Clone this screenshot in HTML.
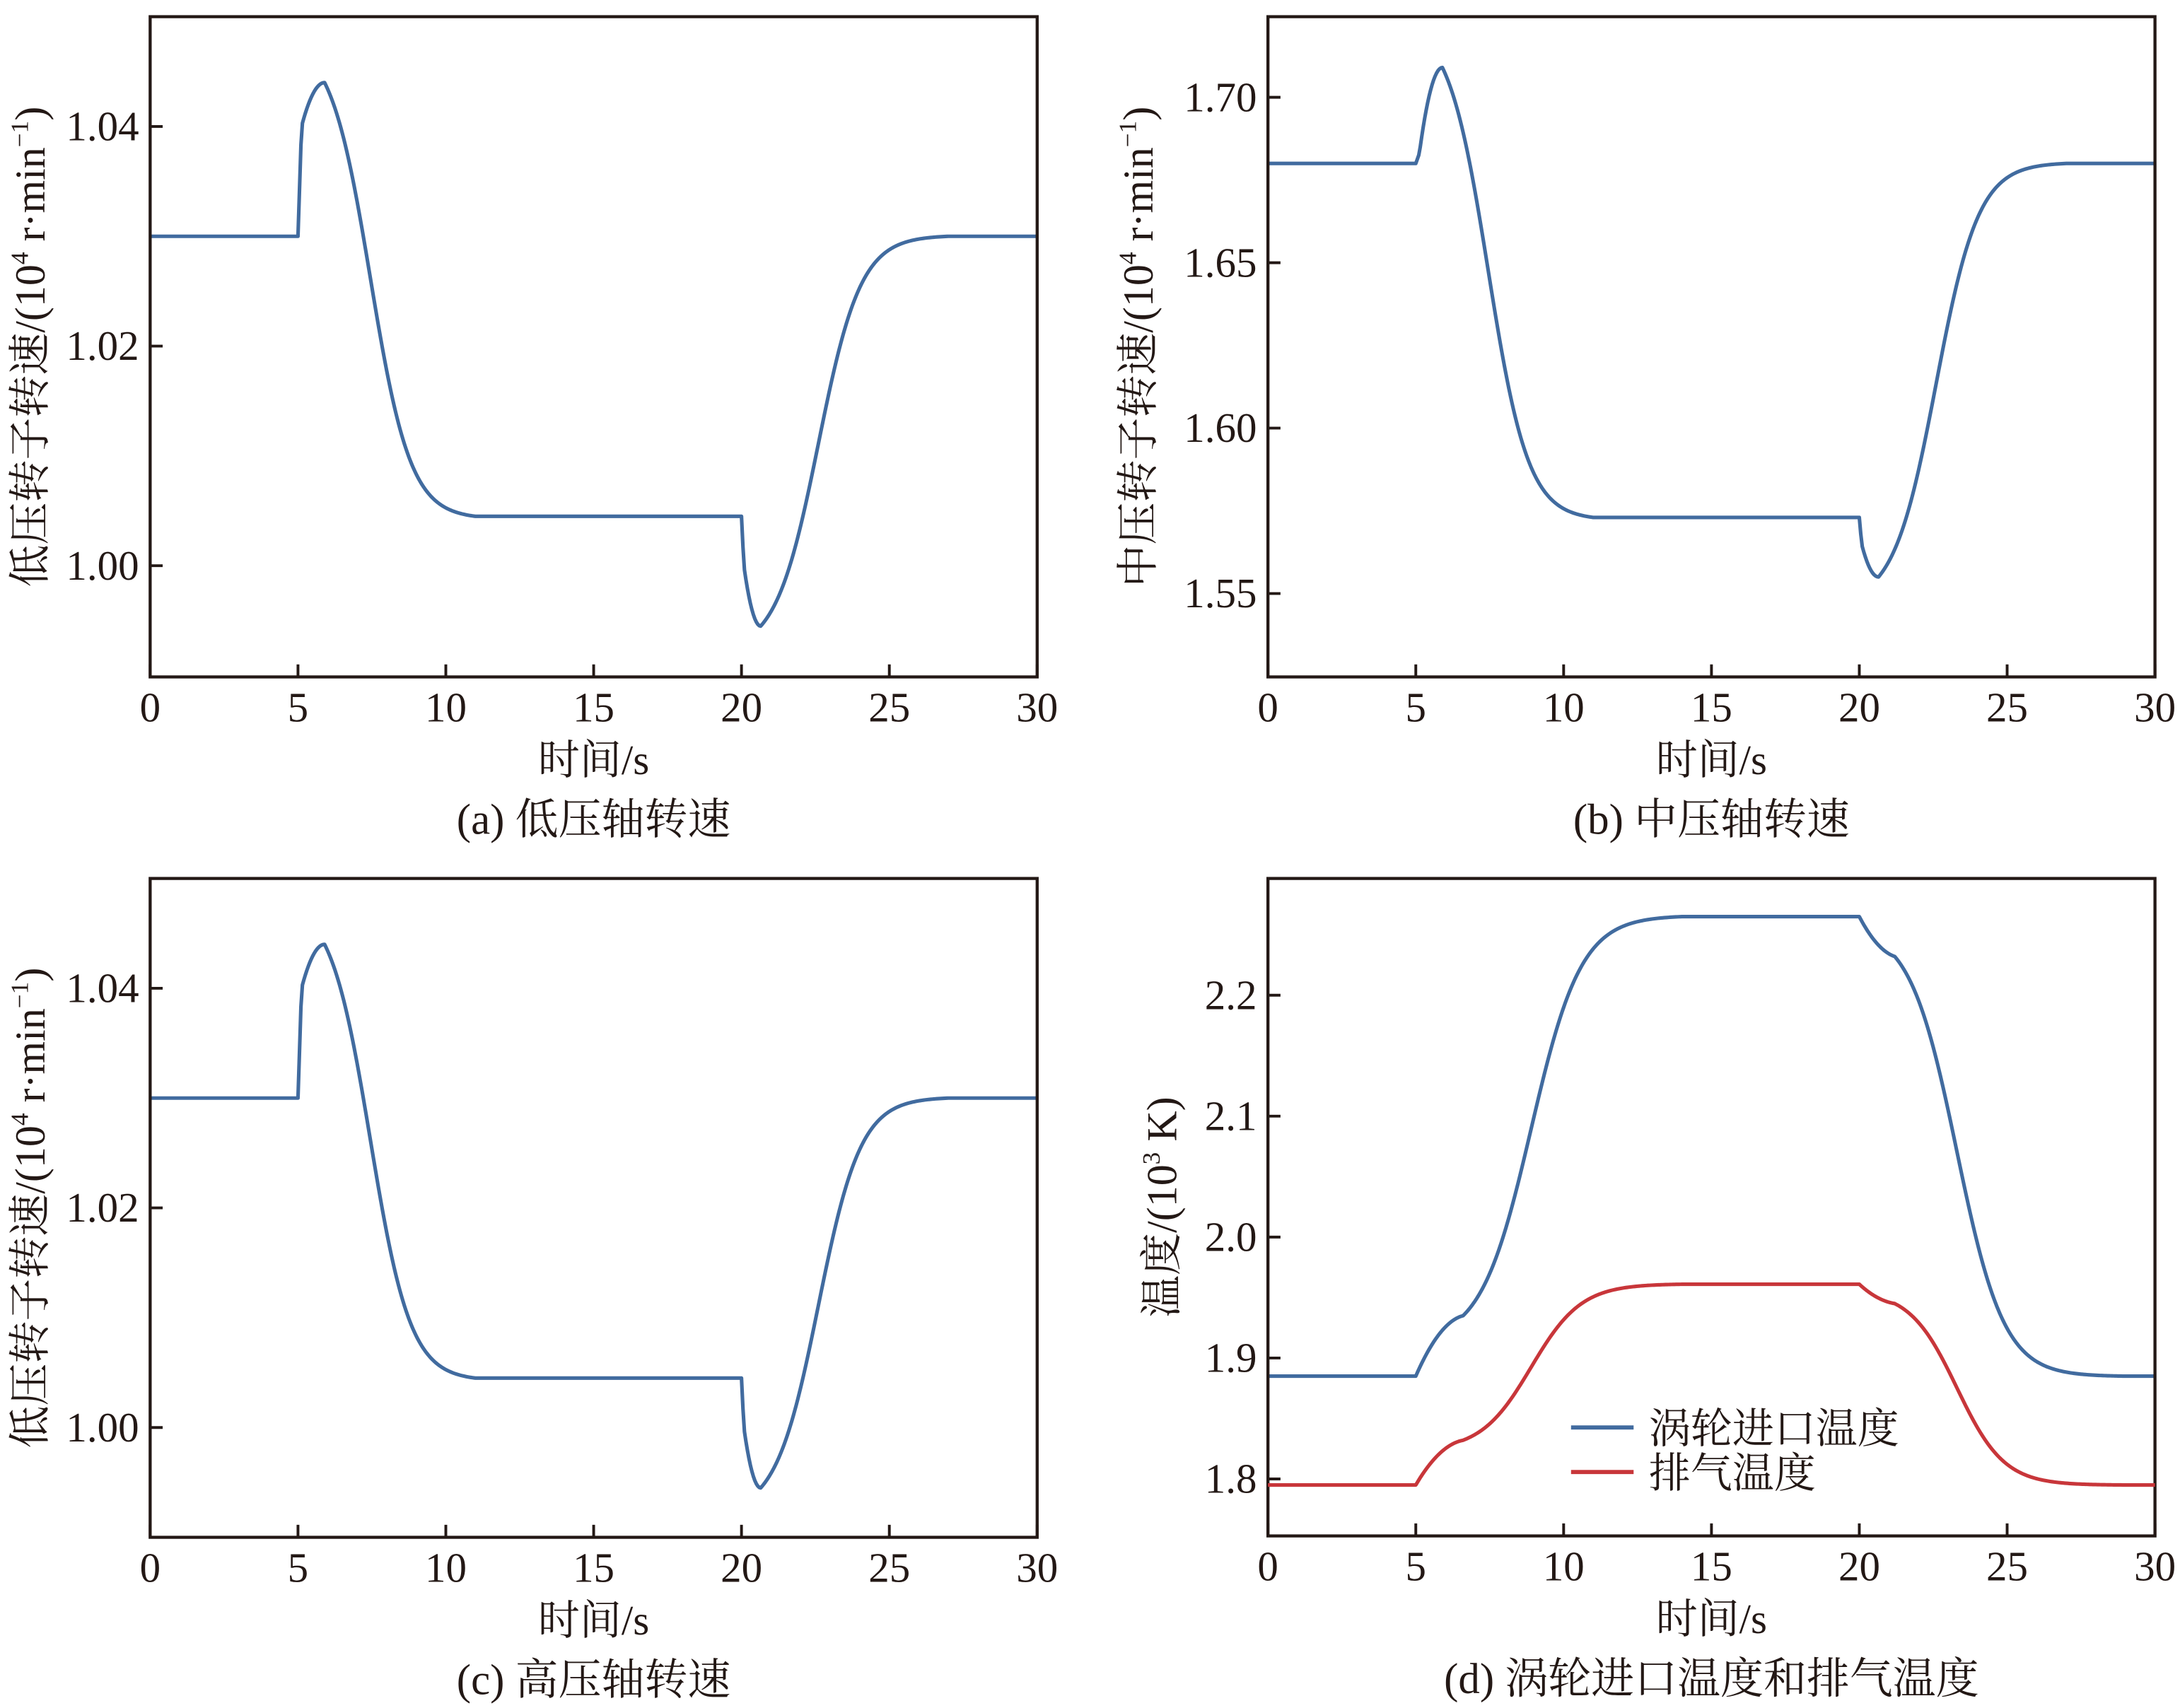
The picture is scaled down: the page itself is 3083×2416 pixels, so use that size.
<!DOCTYPE html>
<html><head><meta charset="utf-8"><style>
html,body{margin:0;padding:0;background:#fff;}
svg{display:block;}
text{font-family:"Liberation Serif","Noto Serif CJK SC","Noto Sans CJK SC",serif;fill:#231815;}
</style></head><body>
<svg id="s" width="3083" height="2416" viewBox="0 0 1568 1228.8" preserveAspectRatio="none" xmlns="http://www.w3.org/2000/svg">
<g id="g"></g>
</svg>
<script>
var NS="http://www.w3.org/2000/svg",g=document.getElementById('g');
function el(t,a,txt){var e=document.createElementNS(NS,t);for(var k in a)e.setAttribute(k,a[k]);if(txt!=null)e.textContent=txt;g.appendChild(e);return e;}
function eo(x){x=Math.max(0,Math.min(1,x));return 1-(1-x)*(1-x);}
function lg(t,c,w,t0,t1){var f=function(u){return 1/(1+Math.exp(-(u-c)/w));};var a0=f(t0),a1=f(t1);return Math.max(0,Math.min(1,(f(t)-a0)/(a1-a0)));}
function speed(t,b,j,pk,lo,dp){
 if(t<5)return b;
 if(t<5.12)return b+(j-b)*((t-5)/0.12);
 if(t<5.9)return j+(pk-j)*eo((t-5.12)/0.78);
 if(t<20)return pk+(lo-pk)*lg(t,7.45,0.68,5.9,11);
 if(t<20.08)return lo+(dp-lo)*0.45*((t-20)/0.08);
 if(t<20.65)return lo+(dp-lo)*(0.45+0.55*eo((t-20.08)/0.57));
 return dp+(b-dp)*lg(t,22.6,0.72,20.65,27);
}
function temp(t,b,k1,hi,k2){
 if(t<5)return b;
 if(t<6.6)return b+(k1-b)*(0.8*eo((t-5)/1.6)+0.2*((t-5)/1.6));
 if(t<20)return k1+(hi-k1)*lg(t,8.9,0.85,6.6,14);
 if(t<21.2)return hi+(k2-hi)*(0.7*eo((t-20)/1.2)+0.3*((t-20)/1.2));
 return k2+(b-k2)*lg(t,23.3,0.8,21.2,29);
}
function axes(x0,y0,x1,y1,yt,lab,cap,ylx,ymap,fn,col){
 var X=function(t){return x0+(x1-x0)*t/30;};
 var d="";for(var i=0;i<=600;i++){var t=i*0.05;d+=(i?"L":"M")+X(t).toFixed(2)+","+ymap(fn(t)).toFixed(2);}
 el('path',{d:d,fill:'none',stroke:col,'stroke-width':2.6,'stroke-linejoin':'round'});
 el('rect',{x:x0,y:y0,width:x1-x0,height:y1-y0,fill:'none',stroke:'#231815','stroke-width':2.2});
 for(var i=0;i<=6;i++){var x=X(i*5);el('line',{x1:x,y1:y1,x2:x,y2:y1-9,stroke:'#231815','stroke-width':2});
  el('text',{x:x,y:y1+32,'text-anchor':'middle','font-size':30},String(i*5));}
 yt.forEach(function(v){var y=ymap(v[0]);el('line',{x1:x0,y1:y,x2:x0+9,y2:y,stroke:'#231815','stroke-width':2});
  el('text',{x:x0-8,y:y+10,'text-anchor':'end','font-size':30},v[1]);});
 el('text',{x:(x0+x1)/2,y:y1+70,'text-anchor':'middle','font-size':30},'时间/s');
 el('text',{x:(x0+x1)/2,y:y1+113,'text-anchor':'middle','font-size':31},cap);
 var t=el('text',{transform:'translate('+ylx+','+((y0+y1)/2)+') rotate(-90)','text-anchor':'middle','font-size':30.5});
 t.innerHTML=lab;
}
var blue='#416b9f',red='#c8363a';
var labS='低压转子转速/(10<tspan font-size="18" dy="-12">4</tspan><tspan dy="12"> r·min</tspan><tspan font-size="18" dy="-12">−1</tspan><tspan dy="12">)</tspan>';
var labM='中压转子转速/(10<tspan font-size="18" dy="-12">4</tspan><tspan dy="12"> r·min</tspan><tspan font-size="18" dy="-12">−1</tspan><tspan dy="12">)</tspan>';
function ymA(o){return function(v){return o+91+(1.04-v)/0.02*158;};}
axes(108,12,746,487,[[1.04,'1.04'],[1.02,'1.02'],[1.00,'1.00']],labS,'(a) 低压轴转速',32,ymA(0),function(t){return speed(t,1.030,1.040,1.044,1.0045,0.9945);},blue);
axes(108,632,746,1106,[[1.04,'1.04'],[1.02,'1.02'],[1.00,'1.00']],labS,'(c) 高压轴转速',32,ymA(620),function(t){return speed(t,1.030,1.040,1.044,1.0045,0.9945);},blue);
axes(912,12,1550,487,[[1.70,'1.70'],[1.65,'1.65'],[1.60,'1.60'],[1.55,'1.55']],labM,'(b) 中压轴转速',829,function(v){return 70+(1.70-v)/0.05*119;},function(t){return speed(t,1.68,1.683,1.709,1.573,1.555);},blue);
var ymD=function(v){return 716+(2.2-v)/0.1*87;};
axes(912,632,1550,1105,[[2.2,'2.2'],[2.1,'2.1'],[2.0,'2.0'],[1.9,'1.9'],[1.8,'1.8']],'温度/(10<tspan font-size="18" dy="-12">3</tspan><tspan dy="12"> K)</tspan>','(d) 涡轮进口温度和排气温度',846,ymD,function(t){return temp(t,1.885,1.935,2.265,2.232);},blue);
(function(){var X=function(t){return 912+638*t/30;};var d="";for(var i=0;i<=600;i++){var t=i*0.05;d+=(i?"L":"M")+X(t).toFixed(2)+","+ymD(temp(t,1.795,1.832,1.961,1.945)).toFixed(2);}
 el('path',{d:d,fill:'none',stroke:red,'stroke-width':2.6,'stroke-linejoin':'round'});})();
el('line',{x1:1130,y1:1027,x2:1175,y2:1027,stroke:blue,'stroke-width':3});
el('line',{x1:1130,y1:1059,x2:1175,y2:1059,stroke:red,'stroke-width':3});
el('text',{x:1186,y:1038,'font-size':30},'涡轮进口温度');
el('text',{x:1186,y:1070,'font-size':30},'排气温度');
</script>
</body></html>
